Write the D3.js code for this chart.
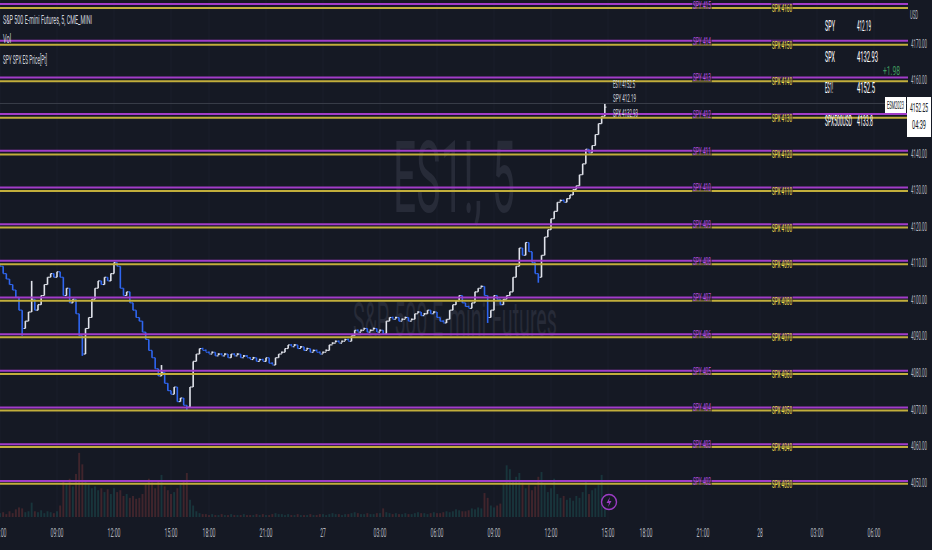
<!DOCTYPE html>
<html><head><meta charset="utf-8">
<script src="https://cdn.jsdelivr.net/npm/d3@7"></script>
<style>html,body{margin:0;padding:0;background:#151924;overflow:hidden}</style>
</head><body><svg id="c" width="932" height="550"></svg>
<script>
// ---------- DATA ----------
// 10-minute closes of ES1! (index 0 = 26th 06:00, trading-time)
const closes = [
 4109,4107,4105.5,4104,4102.5,4100.5,4097,4092,4094,4096.5,
 4100,4097,4098.5,4101,4104,4106,4107,4106,4107.5,4106,
 4101,4103,4099,4100,4096,4090,4085,4092,4095,4100,
 4103,4105,4104,4106,4105,4107,4110,4109,4103,4101,
 4102,4099,4097,4095,4094,4091,4089,4086,4084,4081,
 4079,4080,4077,4075,4074,4076,4072,4073,4071,4070.5,
 4076,4083,4085,4086.5,4086,4085.5,4085,4085.5,4084.5,4085,
 4084.5,4085,4084,4085,4084.5,4085,4084,4084.5,4084,4083.5,
 4084,4083,4083.5,4083,4084,4082.5,4082,4084,4085,4085.5,
 4086.5,4087.5,4087,4087.5,4086.5,4087,4086,4086.5,4085.5,4086,
 4085.5,4085,4085.5,4086,4087.5,4088,4088.5,4088,4088.5,4089,
 4088.5,4090,4091.5,4091,4091.5,4092,4091,4091.5,4092,4091,
 4091.5,4090.5,4094,4095,4094.5,4095,4094,4094.5,4095,4094,
 4094.5,4096,4096.5,4095.5,4096,4097,4096,4096.5,4095,4094,
 4093.5,4094.5,4097,4098.5,4099.5,4101,4099,4098,4097.5,4099,
 4102,4103,4103.5,4101,4095,4097,4101,4100,4098.5,4100,
 4101,4102,4106,4109,4114,4112,4115.5,4113,4110,4107,
 4106,4112,4117,4119,4122,4124,4126.5,4127,4126.5,4127.5,
 4128.5,4130,4131,4134,4137,4141,4140,4142,4145,4148,
 4150,4152.5
];
// wick extremes [barIndex, price]
const wicks = [[7,4090],[10,4105],[26,4084.5],[51,4082],[59,4069.8],[154,4093.5],[170,4104.5],[191,4153.5]];
// volume, thousands of contracts per 10-minute bar
const volumes = [
 4,5,3,6,4,8,10,9,5,6,15,6,5,7,4,6,5,4,6,12,
 38,35,40,32,45,67,55,38,35,30,32,28,30,26,29,24,30,26,28,22,
 24,20,22,19,20,24,34,40,36,30,38,44,32,28,24,26,30,34,38,46,
 18,12,6,
 4,3,3,2,3,2,2,3,2,2,3,2,2,2,3,2,2,2,3,2,3,2,2,3,4,3,3,2,3,2,2,3,2,2,2,3,2,2,3,
 3,2,3,4,3,3,2,3,3,4,5,4,3,3,4,3,3,4,4,9,5,4,3,4,3,3,4,3,3,4,5,4,4,3,4,5,4,4,5,6,5,6,8,7,6,6,7,9,8,10,9,
 25,20,12,10,12,14,35,54,50,38,42,46,36,30,34,28,32,42,47,34,
 26,30,40,24,20,22,18,20,17,22,20,26,37,24,28,30,34,44,20
];
const spyLevels = [402,403,404,405,406,407,408,409,410,411,412,413,414,415];
const spxLevels = [4030,4040,4050,4060,4070,4080,4090,4100,4110,4120,4130,4140,4150,4160];
const priceTicks = [4050,4060,4070,4080,4090,4100,4110,4120,4130,4140,4150,4160,4170];
const timeTickPos = [0,3,6,9,11,14,17,20,23,26,29,32,34,37,40,43,46];
const timeTickLabels = ["06:00","09:00","12:00","15:00","18:00","21:00","27","03:00","06:00","09:00","12:00","15:00","18:00","21:00","28","03:00","06:00"];
const tableSymbols = ["SPY","SPX","ES1!","SPX500USD"];
const tableValues = ["412.19","4132.93","4152.5","4133.8"];
const spyLast = 412.19, spxLast = 4132.93, esLast = 4152.5;
const lastPrice = 4152.25, barHighLine = 4153.5, countdown = "04:39", contract = "ESM2023", changeText = "+1.98";

// ---------- CHART ----------
const W = 932, H = 550, plotR = 908;
const FONT = 'Roboto, "Noto Sans", sans-serif';
const svg = d3.select('#c');
svg.append('rect').attr('width', W).attr('height', H).attr('fill', '#151924');

const x = d3.scaleLinear().domain([0, plotR / 19]).range([0, plotR]);
const y = d3.scaleLinear().domain([4050, 4170]).range([482.1, 43.1]);
const yv = d3.scaleLinear().domain([0, 70]).range([517, 450]);

// text squeezed horizontally to a target width (the reference is condensed)
function txt(g, s, px, py, size, fill, len, anchor) {
  const t = g.append('text').attr('x', 0).attr('y', 0)
    .attr('font-size', size).attr('fill', fill).attr('font-family', FONT)
    .attr('text-anchor', anchor || 'start').attr('dominant-baseline', 'central').text(s);
  let k = 1;
  if (len) { const nat = t.node().getComputedTextLength(); if (nat > 0) k = len / nat; }
  t.attr('transform', `translate(${px},${py}) scale(${k},1)`);
  return t;
}

// grid
const grid = svg.append('g');
grid.selectAll('line.v').data(timeTickPos).join('line')
  .attr('x1', d => x(d)).attr('x2', d => x(d)).attr('y1', 0).attr('y2', 520)
  .attr('stroke', '#1b1f2b').attr('stroke-width', 1);

// watermark
const wm = svg.append('g');
txt(wm, 'ES1!, 5', 393, 178, 100, '#272b38', 122);
txt(wm, 'S&P 500 E-mini Futures', 353, 320, 48, '#272b38', 204);

// volume
const step = x(1 / 6) - x(0);
svg.append('g').selectAll('rect').data(volumes).join('rect')
  .attr('x', (d, i) => x(i / 6) - step * 0.3)
  .attr('width', step * 0.6)
  .attr('y', d => yv(d))
  .attr('height', d => 517 - yv(d))
  .attr('fill', (d, i) => {
    const o = i > 0 ? closes[i - 1] : closes[0];
    return closes[i] >= o ? '#26a69a' : '#ef5350';
  })
  .attr('opacity', 0.2);

// price bars
const wickMap = new Map(wicks);
const bars = svg.append('g');
closes.forEach((c, i) => {
  const o = i > 0 ? closes[i - 1] : c + 0.5;
  let hi = Math.max(o, c), lo = Math.min(o, c);
  if (wickMap.has(i)) { const w = wickMap.get(i); hi = Math.max(hi, w); lo = Math.min(lo, w); }
  const col = c >= o ? '#e0e3eb' : '#2f66f0';
  const cx = x(i / 6);
  let y1 = y(hi), y2 = y(lo);
  if (y2 - y1 < 2) { y1 -= 0.8; y2 = y1 + 2; }
  bars.append('line').attr('x1', cx).attr('x2', cx).attr('y1', y1).attr('y2', y2)
    .attr('stroke', col).attr('stroke-width', 1.6);
  bars.append('line').attr('x1', cx - 1.6).attr('x2', cx).attr('y1', y(o)).attr('y2', y(o))
    .attr('stroke', col).attr('stroke-width', 1.1);
  bars.append('line').attr('x1', cx).attr('x2', cx + 1.6).attr('y1', y(c)).attr('y2', y(c))
    .attr('stroke', col).attr('stroke-width', 1.1);
});

// level lines
const spread = esLast - spxLast, ratio = spxLast / spyLast;
const ySpx = l => y(l + spread);
const ySpy = l => y(l * ratio + spread);
const lines = svg.append('g');
lines.selectAll('line.spx').data(spxLevels).join('line')
  .attr('x1', 0).attr('x2', plotR).attr('y1', ySpx).attr('y2', ySpx)
  .attr('stroke', '#c2ae3c').attr('stroke-width', 2);
lines.selectAll('line.spy').data(spyLevels).join('line')
  .attr('x1', 0).attr('x2', plotR).attr('y1', ySpy).attr('y2', ySpy)
  .attr('stroke', '#a23cc8').attr('stroke-width', 2);

// current bar-high line
svg.append('line').attr('x1', 0).attr('x2', plotR).attr('y1', y(barHighLine)).attr('y2', y(barHighLine))
  .attr('stroke', '#3a3e4a').attr('stroke-width', 1);

// level labels
const lab = svg.append('g');
spyLevels.forEach(l => {
  const yy = ySpy(l);
  lab.append('rect').attr('x', 692).attr('y', yy - 5).attr('width', 20).attr('height', 10)
    .attr('fill', '#151924').attr('opacity', 0.5);
  txt(lab, 'SPY ' + l, 702, Math.max(yy, 5), 11, '#b84ee0', 18, 'middle');
});
spxLevels.forEach(l => {
  const yy = ySpx(l);
  lab.append('rect').attr('x', 771).attr('y', yy - 5).attr('width', 22).attr('height', 10)
    .attr('fill', '#151924').attr('opacity', 0.5);
  txt(lab, 'SPX ' + l, 782, yy, 11, '#ecdc4c', 20, 'middle');
});

// last-value labels next to last bar
const lv = svg.append('g');
txt(lv, 'ES1! ' + esLast, 613, 84, 11, '#d1d4dc', 22);
txt(lv, 'SPY ' + spyLast, 613, 98, 11, '#d1d4dc', 23);
txt(lv, 'SPX ' + spxLast, 613, 113, 11, '#d1d4dc', 25);

// price label boxes region (axis ticks hidden behind it are not drawn)
const boxTop = 97, boxBottom = 137;

// right axis
const ax = svg.append('g');
priceTicks.filter(p => y(p) < boxTop - 4 || y(p) > boxBottom + 4)
  .forEach(p => txt(ax, d3.format('.2f')(p), 911, y(p), 13, '#b2b5be', 16));
txt(ax, 'USD', 910, 15, 12, '#b2b5be', 8);

// bottom axis
const bx = svg.append('g');
timeTickPos.forEach((p, i) => {
  const s = timeTickLabels[i];
  const w = s.length > 2 ? 13 : 5.5;
  txt(bx, s, Math.max(x(p), 0), 532, 13, '#b2b5be', w, 'middle');
});

// table top-right
const tb = svg.append('g');
const rowsY = [26.7, 57.3, 88.3, 121.7];
const symW = [10, 10, 8, 27], valW = [14, 21, 18, 16];
tableSymbols.forEach((s, i) => {
  txt(tb, s, 825, rowsY[i], 14, '#ffffff', symW[i]);
  txt(tb, tableValues[i], 857, rowsY[i], 14, '#ffffff', valW[i]);
});
txt(tb, changeText, 883, 71, 13, '#3f9a5e', 17);

// price label boxes
const pb = svg.append('g');
pb.append('rect').attr('x', 885).attr('y', boxTop).attr('width', 21).attr('height', 16).attr('fill', '#ffffff');
txt(pb, contract, 895.5, 105, 11, '#131722', 17, 'middle');
pb.append('rect').attr('x', 907).attr('y', boxTop).attr('width', 24).attr('height', boxBottom - boxTop).attr('fill', '#ffffff');
txt(pb, d3.format('.2f')(lastPrice), 919, 107, 12, '#131722', 18, 'middle');
txt(pb, countdown, 919, 125, 12, '#131722', 14, 'middle');

// legend top-left
const lg = svg.append('g');
txt(lg, 'S&P 500 E-mini Futures, 5, CME_MINI', 3, 19, 12, '#d1d4dc', 89);
txt(lg, 'Vol', 3, 39, 12, '#d1d4dc', 8);
txt(lg, 'SPY SPX ES Price[Pt]', 3, 60, 12, '#d1d4dc', 44);

// lightning icon
const ic = svg.append('g').attr('transform', 'translate(609,502)');
ic.append('circle').attr('r', 7.5).attr('fill', '#151924').attr('stroke', '#9c3cc4').attr('stroke-width', 1.4);
ic.append('path').attr('d', 'M1,-5 L-2.5,1 L0,1 L-1,5 L2.5,-1 L0,-1 Z').attr('fill', '#9c3cc4');
</script>
</body></html>
